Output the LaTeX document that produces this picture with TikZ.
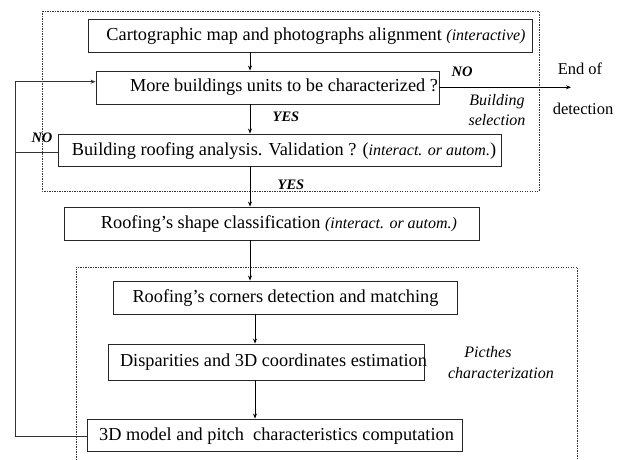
\documentclass[tikz,border=0pt]{standalone}
\usepackage{fontspec}
\setmainfont{Liberation Serif}
\usetikzlibrary{arrows.meta}
\begin{document}
\begin{tikzpicture}[x=1pt,y=-1pt,
  box/.style={draw=black!85,line width=0.9pt,rectangle,inner sep=0pt},
  txt/.style={inner sep=0pt,font=\fontsize{18.3}{20}\selectfont},
  lbl/.style={inner sep=0pt,font=\fontsize{14.5}{16}\selectfont\bfseries\itshape},
  side/.style={inner sep=0pt,font=\fontsize{16}{18}\selectfont\itshape},
  plain/.style={inner sep=0pt,font=\fontsize{16.5}{18}\selectfont},
  dotbox/.style={line width=0.7pt,dash pattern=on 1.4pt off 1.1pt,black!80},
  arr/.style={line width=0.8pt,-{Stealth[length=5pt,width=4pt]}},
  ln/.style={line width=0.8pt,black!80},
  par/.style={font=\fontsize{16}{18}\selectfont\itshape}]
\useasboundingbox (0,0) rectangle (622,460);
% dotted frames
\draw[dotbox] (42,11) rectangle (539,191);
\draw[dotbox] (76,460) -- (76,267) -- (577,267) -- (577,460);
% boxes
\node[box,minimum width=444pt,minimum height=33pt] (b1) at (310,35.5) {};
\node[box,minimum width=343pt,minimum height=33pt] (b2) at (267.5,87.5) {};
\node[box,minimum width=443pt,minimum height=32pt] (b3) at (279.5,150) {};
\node[box,minimum width=415pt,minimum height=33pt] (b4) at (271.5,223.5) {};
\node[box,minimum width=344pt,minimum height=33pt] (b5) at (285,297.5) {};
\node[box,minimum width=316pt,minimum height=36pt] (b6) at (266,362) {};
\node[box,minimum width=375pt,minimum height=32pt] (b7) at (274.5,435) {};
% texts
\node[txt] (t1) at (316,36) {Cartographic map and photographs alignment {\fontsize{16}{18}\selectfont\itshape(interactive)}};
\node[txt] (t2) at (284,87) {More buildings units to be characterized ?};
\node[txt] (t3) at (284,151) {Building roofing analysis. Validation ? ({\fontsize{16}{18}\selectfont\itshape interact. or autom.})};
\node[txt] (t4) at (279,224) {Roofing’s shape classification {\fontsize{16}{18}\selectfont\itshape(interact. or autom.)}};
\node[txt] (t5) at (285.5,298) {Roofing’s corners detection and matching};
\node[txt] (t6) at (273.5,362) {Disparities and 3D coordinates estimation};
\node[txt] (t7) at (276.5,436) {3D model and pitch\ \ characteristics computation};
% labels
\node[lbl] (no1) at (462,72) {NO};
\node[lbl] (no2) at (42,138) {NO};
\node[lbl] (yes1) at (286,117) {YES};
\node[lbl] (yes2) at (291,185) {YES};
\node[plain] (end1) at (580,69) {End of};
\node[plain] (end2) at (583,109) {detection};
\node[side] (bs1) at (497,102) {Building};
\node[side] (bs2) at (497,120) {selection};
\node[side] (pc1) at (488,352) {Picthes};
\node[side] (pc2) at (501,373) {characterization};
% connectors
\coordinate (endpt) at (571,87.3);
\coordinate (fbtop) at (15,81.7);
\coordinate (fbbot) at (15,436);
\coordinate (fbmid) at (15,152.7);
\draw[arr] (b1.south -| 250,0) -- (b2.north -| 250,0);
\draw[arr] (b2.south -| 250,0) -- (b3.north -| 250,0);
\draw[arr] (b3.south -| 250,0) -- (b4.north -| 250,0);
\draw[arr] (b4.south -| 250,0) -- (b5.north -| 250,0);
\draw[arr] (b5.south -| 255,0) -- (b6.north -| 255,0);
\draw[arr] (b6.south -| 255,0) -- (b7.north -| 255,0);
\draw[arr] (b2.east |- endpt) -- (endpt);
\draw[ln] (b7.west |- fbbot) -- (fbbot) -- (fbtop);
\draw[arr,black!80] (fbtop) -- (b2.west |- fbtop);
\draw[ln] (b3.west |- fbmid) -- (fbmid);
\end{tikzpicture}
\end{document}
